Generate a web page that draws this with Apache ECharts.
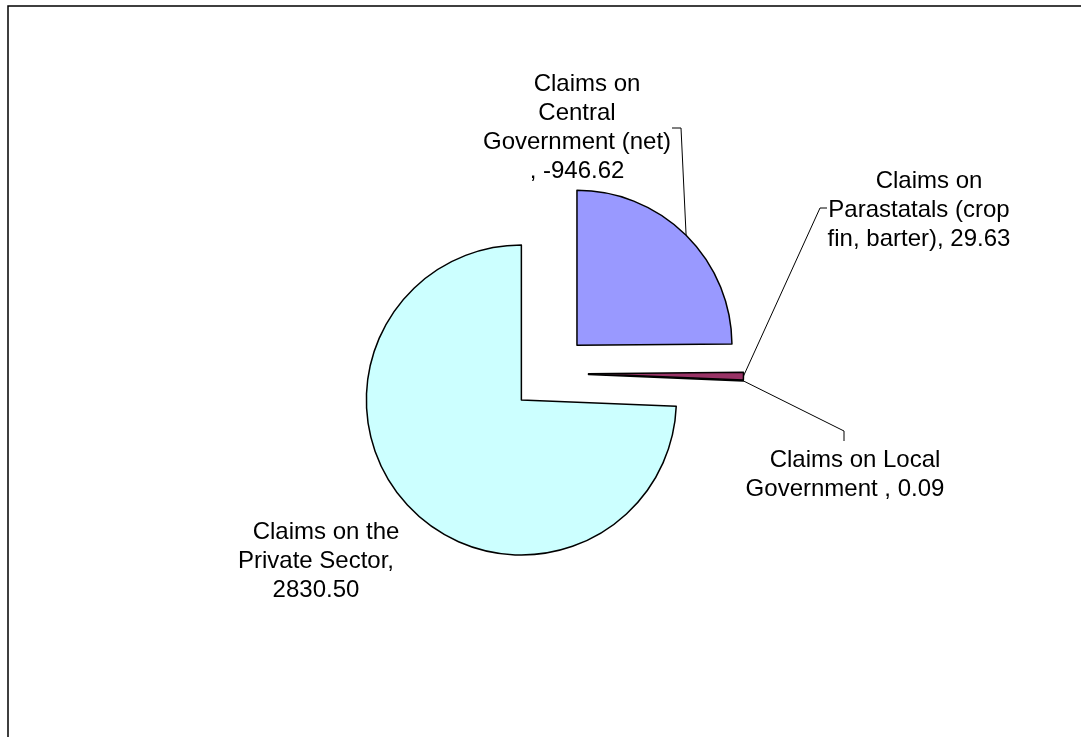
<!DOCTYPE html>
<html>
<head>
  <meta charset="UTF-8">
  <title>Domestic credit pie</title>
  <style>
    html, body { margin: 0; padding: 0; background: #fff; overflow: hidden; }
    #chart { width: 1081px; height: 737px; }
  </style>
  <script src="https://cdn.jsdelivr.net/npm/echarts@6/dist/echarts.min.js"></script>
</head>
<body>
<div id="chart"></div>
<script>
  // data (names carry the wrapping used in the labels)
  var categories = [
    'Claims on\nCentral\nGovernment (net)\n',
    'Claims on\nParastatals (crop\nfin, barter)',
    'Claims on Local\nGovernment ',
    'Claims on the\nPrivate Sector'
  ];
  var values = [-946.62, 29.63, 0.09, 2830.50];
  var colors = ['#9999FF', '#993366', '#FFFFCC', '#CCFFFF'];

  // where each label sits, and the bend of its leader line
  var labelPos = [[577, 128], [919, 210], [845, 475], [316, 561]];
  var leaderBend = [
    [[681, 128], [672, 128]],
    [[820, 208], [827, 208]],
    [[844, 431], [844, 441]],
    null
  ];

  var CX = 549.5, CY = 373, R = 155, OFFSET = 39;

  var total = 0;
  values.forEach(function (v) { total += Math.abs(v); });
  // mid angle of every slice, degrees clockwise from 12 o'clock
  var midAngles = [];
  var acc = 0;
  values.forEach(function (v) {
    var a = Math.abs(v) / total * 360;
    midAngles.push(acc + a / 2);
    acc += a;
  });

  function labelText(i) {
    var sep = i === 3 ? ',\n' : ', ';
    // excel nudges the first wrapped line a little to the right
    return '{sp|}' + categories[i] + sep + values[i].toFixed(2);
  }

  // one series per slice, so every slice can be pulled out on its own
  var series = categories.map(function (n, k) {
    var rad = midAngles[k] * Math.PI / 180;
    var data = categories.map(function (name, i) {
      var item = { name: name, value: Math.abs(values[i]) };
      if (i === k) {
        item.itemStyle = { color: colors[i], borderColor: '#000', borderWidth: 1.5 };
        item.label = { show: true };
        item.labelLine = { show: leaderBend[i] != null };
      } else {
        item.itemStyle = { color: 'rgba(0,0,0,0)', borderWidth: 0 };
        item.label = { show: false };
        item.labelLine = { show: false };
      }
      return item;
    });
    return {
      type: 'pie',
      center: [CX + OFFSET * Math.sin(rad), CY - OFFSET * Math.cos(rad)],
      radius: R,
      startAngle: 90,
      clockwise: true,
      avoidLabelOverlap: false,
      silent: true,
      z: 2 + k,
      data: data,
      emphasis: { disabled: true },
      label: {
        position: 'outside',
        fontFamily: 'Liberation Sans, Arial, sans-serif',
        fontSize: 24,
        lineHeight: 29,
        color: '#000',
        align: 'center',
        formatter: function (p) { return labelText(p.dataIndex); },
        rich: {
          sp: { width: 20, height: 29 }
        }
      },
      labelLine: { lineStyle: { color: '#000', width: 1 } },
      labelLayout: function (params) {
        var i = params.dataIndex;
        var out = {
          x: labelPos[i][0],
          y: labelPos[i][1],
          align: 'center',
          verticalAlign: 'middle'
        };
        if (leaderBend[i]) {
          var r = midAngles[i] * Math.PI / 180;
          var start = [CX + (R + OFFSET) * Math.sin(r), CY - (R + OFFSET) * Math.cos(r)];
          out.labelLinePoints = [start, leaderBend[i][0], leaderBend[i][1]];
        }
        return out;
      }
    };
  });

  var myChart = echarts.init(document.getElementById('chart'));
  myChart.setOption({
    animation: false,
    graphic: [{
      type: 'rect',
      shape: { x: 8, y: 6, width: 1200, height: 900 },
      style: { fill: 'none', stroke: '#000', lineWidth: 1.5 },
      silent: true
    }],
    series: series
  });
</script>
</body>
</html>
